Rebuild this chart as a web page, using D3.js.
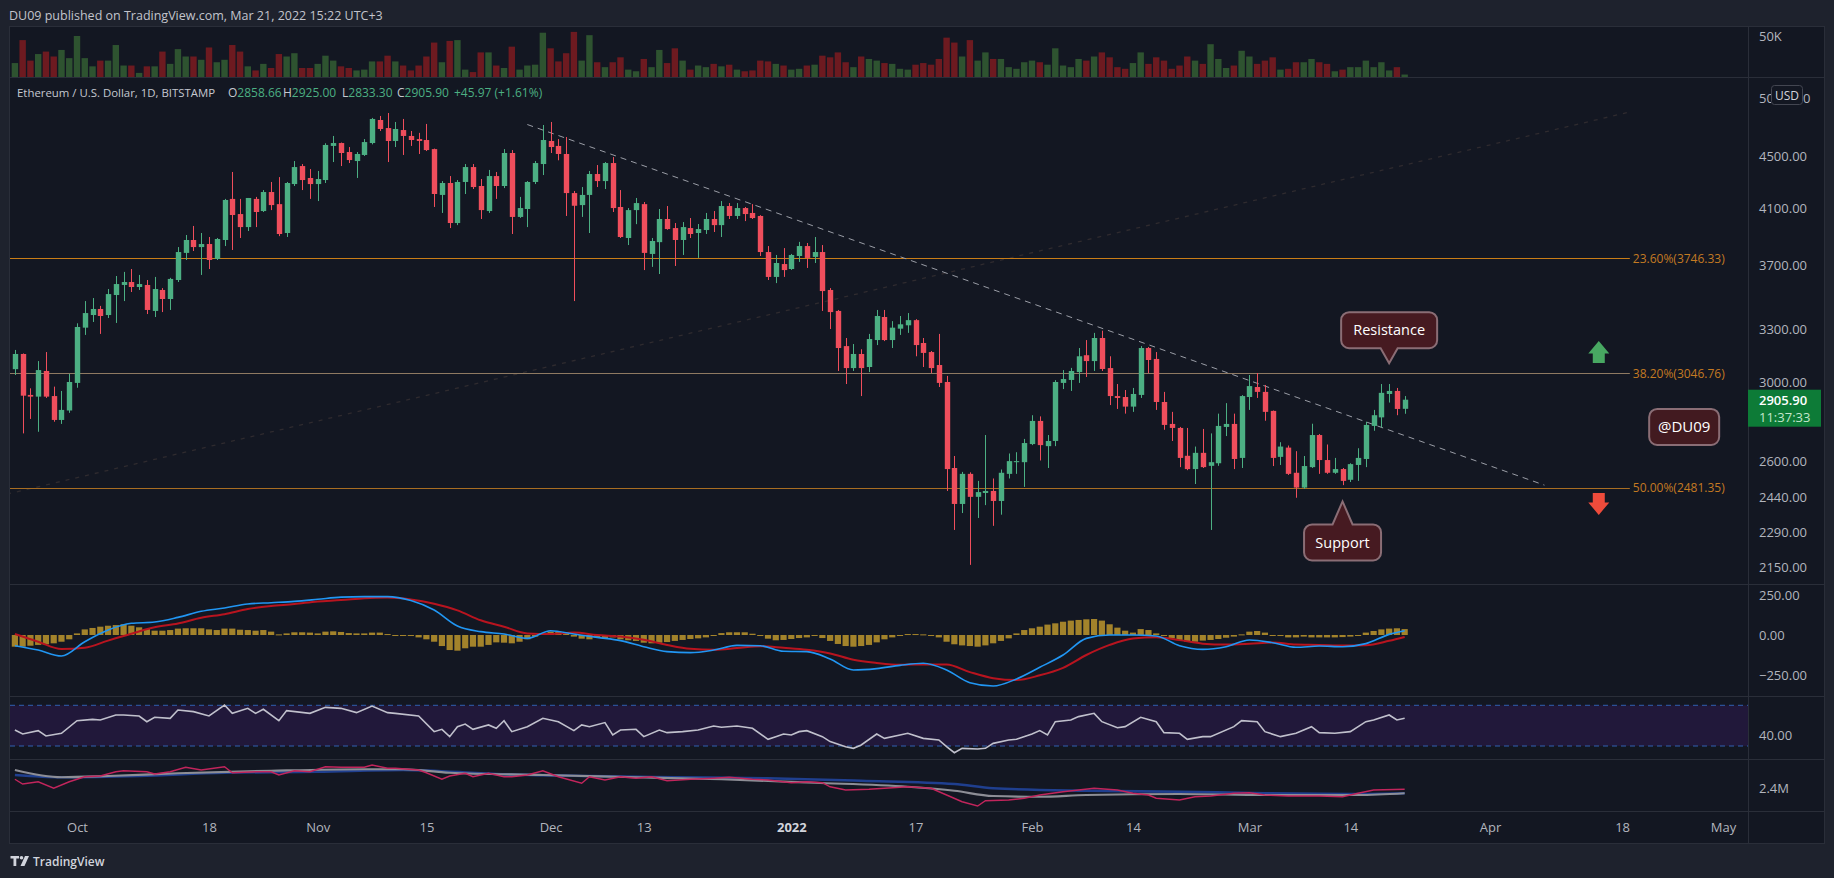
<!DOCTYPE html>
<html>
<head>
<meta charset="utf-8">
<script src="https://cdn.jsdelivr.net/npm/d3@7"></script>
<style>
  body { margin: 0; background: #1e222d; overflow: hidden; }
  text { font-family: "Open Sans", sans-serif; }
</style>
</head>
<body>
<svg id="chart" width="1834" height="878"></svg>
<script>
// ---- data (ETH/USD daily, Bitstamp, 23 Sep 2021 .. 21 Mar 2022) ----
var firstDay = "2021-09-23";

var opens = [3070,3155,2931,2922,3060,2925,2802,2850,2995,3308,3384,3421,3384,3508,3572,3591,3559,3572,3409,3540,
  3483,3604,3784,3873,3824,3845,3743,3873,4170,4058,3964,4170,4080,4222,4131,3922,4283,4424,4330,4283,
  4314,4587,4611,4537,4464,4513,4611,4806,4737,4628,4720,4670,4644,4636,4561,4200,4291,3993,4299,4416,
  4268,4080,4345,4268,4529,4037,4095,4299,4440,4628,4587,4521,4214,4124,4200,4361,4306,4448,4110,3887,
  4087,4131,3777,3858,4022,3957,3873,3957,3922,3943,4022,3978,4117,4044,4102,4066,4044,3790,3624,3709,
  3676,3763,3831,3757,3790,3540,3409,3200,3076,3155,3082,3235,3372,3235,3302,3322,3353,3218,3166,3093,
  3000,2570,2409,2543,2440,2457,2466,2422,2543,2597,2597,2683,2797,2673,2698,2995,3011,3054,3148,3115,
  3247,3076,2925,2920,2870,2931,3189,3127,2894,2782,2762,2627,2565,2641,2580,2592,2767,2782,2617,2920,
  2973,2947,2848,2622,2666,2548,2481,2574,2727,2607,2548,2565,2516,2584,2612,2772,2815,2936,2952,2858.66];
var highs = [3178,3158,2966,3115,3166,2975,2952,3044,3334,3470,3489,3440,3546,3630,3657,3676,3637,3604,3624,3552,
  3618,3824,3908,3972,3922,3894,3887,4170,4377,4170,4177,4185,4237,4299,4337,4299,4464,4440,4400,4385,
  4609,4670,4615,4578,4537,4644,4824,4841,4867,4789,4815,4712,4696,4772,4565,4306,4345,4314,4440,4440,
  4322,4393,4377,4561,4553,4185,4306,4464,4763,4789,4644,4661,4230,4260,4385,4432,4456,4496,4237,4102,
  4177,4147,3887,4095,4117,3993,4000,4029,3986,4066,4080,4154,4139,4139,4110,4131,4050,3831,3770,3817,
  3777,3860,3852,3894,3838,3552,3415,3247,3212,3182,3271,3415,3415,3347,3378,3396,3359,3247,3172,3271,
  3033,2626,2552,2550,2511,2727,2522,2563,2638,2644,2708,2826,2820,2727,3010,3065,3077,3189,3235,3277,
  3290,3142,2989,2957,2968,3200,3195,3166,2947,2843,2767,2762,2671,2757,2735,2834,2888,2834,2930,3038,
  3049,2984,2850,2692,2676,2649,2626,2783,2732,2681,2617,2570,2592,2663,2793,2853,2989,2989,2968,2925];
var lows = [3038,2735,2807,2743,2915,2793,2782,2838,2969,3265,3342,3271,3366,3336,3470,3527,3540,3390,3372,3402,
  3415,3591,3736,3797,3637,3676,3736,3831,3804,3887,3936,3964,4073,4087,3900,3894,4268,4237,4170,4154,
  4291,4456,4424,4448,4330,4505,4600,4712,4456,4578,4513,4587,4521,4545,4110,4066,3957,3978,4207,4245,
  4022,4066,4170,4252,3915,4030,3964,4283,4353,4529,4470,4044,3470,4037,3922,4260,4245,4073,3887,3838,
  3985,3669,3690,3643,3945,3696,3770,3887,3750,3915,3929,3894,4022,4022,4007,4022,3763,3604,3584,3624,
  3670,3723,3683,3716,3409,3300,3060,2989,3060,2925,3054,3206,3229,3189,3265,3277,3142,3082,3049,2973,
  2466,2299,2370,2159,2349,2404,2316,2363,2522,2543,2484,2678,2605,2570,2673,2962,2952,2995,3027,3060,
  3060,2878,2858,2834,2843,2915,3049,2853,2753,2698,2574,2560,2497,2570,2299,2580,2722,2565,2570,2853,
  2915,2798,2579,2584,2538,2436,2475,2570,2543,2543,2543,2492,2506,2511,2574,2748,2764,2891,2826,2833.3];
var closes = [3155,2927,2922,3065,2922,2802,2853,3000,3312,3396,3421,3378,3514,3578,3591,3559,3578,3415,3546,3483,
  3611,3790,3873,3824,3845,3736,3880,4162,4051,3964,4177,4073,4222,4124,3915,4291,4416,4314,4283,4322,
  4595,4611,4529,4472,4521,4619,4815,4729,4628,4729,4670,4636,4628,4553,4207,4291,3993,4299,4416,4260,
  4087,4345,4268,4529,4037,4102,4299,4448,4636,4578,4521,4214,4119,4200,4361,4306,4448,4102,3894,4087,
  4139,3784,3866,4022,3950,3873,3964,3915,3950,4022,3978,4117,4044,4102,4058,4029,3790,3624,3716,3669,
  3770,3831,3750,3790,3533,3402,3189,3076,3155,3076,3241,3378,3235,3308,3328,3353,3206,3161,3076,2995,
  2565,2409,2543,2440,2461,2466,2422,2548,2602,2602,2688,2797,2678,2698,3000,3016,3060,3142,3115,3247,
  3071,2925,2915,2870,2936,3189,3121,2894,2777,2762,2617,2565,2641,2574,2597,2772,2782,2612,2925,2978,
  2947,2843,2617,2671,2543,2481,2579,2727,2607,2548,2565,2511,2588,2617,2777,2826,2942,2952,2858,2905.9];
// volume, thousands of ETH
var volumes = [17,45,20,28,31,25,33,23,50,23,13,20,20,39,14,14,5,13,13,31,
  16,34,25,25,21,36,18,21,39,31,13,8,16,11,28,25,29,11,11,16,
  26,20,13,11,8,9,19,19,26,19,14,8,14,25,42,18,44,45,9,6,
  30,30,14,11,37,9,14,15,54,35,19,29,55,20,51,18,12,18,24,9,
  7,22,12,33,17,35,20,9,14,12,16,13,15,9,7,8,20,19,16,14,
  9,10,14,15,26,24,30,18,12,25,22,20,17,16,10,9,15,17,15,22,
  48,42,25,45,20,30,22,22,12,10,18,20,18,15,35,14,12,22,20,25,
  30,24,12,10,17,30,16,24,20,10,14,25,20,16,40,22,11,14,32,25,
  16,20,24,9,10,18,18,22,18,16,7,9,12,12,20,12,18,8,12,3];

// MACD (12,26,9): histogram per day, lines read every third day
var macdHist = [-73,-73,-67,-62,-58,-52,-42,-27,10,35,44,52,58,62,67,58,48,37,27,27,
  31,40,42,42,42,35,31,40,40,33,31,27,31,21,4,10,17,17,15,10,
  21,23,19,12,10,10,15,15,6,0,-2,-6,-15,-27,-42,-69,-94,-98,-83,-73,
  -73,-62,-46,-48,-52,-42,-27,-10,10,21,21,10,-10,-23,-27,-15,-21,-15,-27,-33,
  -37,-48,-52,-48,-44,-37,-31,-25,-21,-15,-2,12,17,17,17,8,-6,-23,-33,-31,
  -25,-19,-15,-6,-19,-37,-56,-69,-73,-69,-62,-46,-27,-15,-6,6,6,4,0,-15,
  -42,-58,-65,-69,-73,-65,-52,-37,-21,10,31,42,52,65,73,83,90,94,98,100,
  90,67,46,27,15,37,31,10,-6,-21,-31,-42,-42,-35,-31,-25,-17,-10,4,21,
  25,15,0,-6,-15,-15,-10,-15,-15,-15,-15,-13,-10,0,15,25,35,40,42,37];
var macdDays = [0,3,6,9,12,15,18,21,24,27,30,33,36,39,42,45,48,51,54,57,60,63,66,69,72,75,78,81,84,87,
  90,93,96,99,102,105,108,111,114,117,120,123,126,129,132,135,138,141,144,147,150,153,156,159,162,165,168,171,174,177,179];
var macdLine = [-67,-94,-131,-42,31,73,81,110,148,169,194,202,210,223,237,240,240,215,156,56,
  21,6,-21,27,6,-15,-35,-73,-104,-110,-94,-65,-67,-102,-104,-150,-219,-210,-190,-177,
  -219,-298,-319,-275,-202,-125,-21,0,0,-6,-67,-90,-73,-31,-48,-77,-69,-73,-54,4,27];
var signalLine = [6,-42,-88,-80,-35,8,48,72,108,130,162,181,193,210,218,230,234,222,195,154,
  92,52,10,6,15,0,-10,-30,-62,-86,-92,-82,-70,-80,-92,-115,-155,-175,-186,-184,
  -185,-232,-270,-282,-252,-205,-125,-62,-22,-14,-32,-54,-60,-55,-47,-60,-62,-66,-64,-36,-12];

// RSI
var rsiDays = [0,1,3,4,6,8,10,11,13,14,16,17,18,20,21,23,25,27,28,30,31,32,34,35,38,40,42,44,46,48,
  49,52,54,55,56,57,58,59,61,62,63,64,66,68,70,72,73,74,76,77,78,80,81,83,84,86,88,90,91,93,
  95,97,98,99,100,101,102,104,105,107,108,109,111,112,114,115,117,119,120,121,122,124,125,126,128,129,131,132,133,134,
  136,137,139,140,142,143,145,147,148,150,151,153,154,157,158,160,161,163,165,167,168,170,172,174,175,177,178,179];
var rsiVals = [45.7,41.8,45.1,39.8,42.5,54.9,56.2,55.6,60.5,60.5,59.5,53.9,58.2,57.2,65.4,63.8,59.5,70.3,62.1,67.0,
  62.1,66.1,54.9,64.8,62.1,68.0,67.0,62.8,69.3,62.8,62.1,59.5,44.1,46.4,39.2,49.0,51.6,46.4,50.7,47.4,
  54.9,44.1,49.0,57.2,53.9,45.1,50.7,49.0,53.0,40.8,45.7,46.4,39.2,45.7,43.1,44.1,45.7,49.7,48.4,49.7,
  47.4,36.6,39.2,41.8,40.8,44.1,45.1,39.2,34.3,29.3,27.7,31.0,41.8,37.5,40.8,42.5,37.5,35.9,29.3,23.4,
  27.7,27.0,27.7,32.6,35.9,36.6,41.8,45.1,40.8,53.9,55.6,58.9,62.1,53.9,48.0,49.0,58.2,53.9,43.1,42.5,
  36.6,39.2,39.2,49.0,54.9,53.9,44.1,39.2,42.5,49.0,43.1,42.5,44.1,53.9,55.6,60.5,55.6,57.2];

// bottom pane, millions: jagged line plus two averages
var obvDays = [0,1,3,5,7,9,11,13,14,17,18,20,22,24,27,28,31,33,34,36,38,40,42,45,46,48,49,52,53,55,
  56,58,59,61,63,64,66,68,70,73,74,76,78,80,82,84,87,90,92,95,97,100,102,104,105,107,110,112,115,118,
  120,122,124,125,128,130,132,135,137,139,142,144,146,147,150,152,154,157,159,161,164,166,168,171,173,175,179];
var obvVals = [2.75,2.56,2.65,2.39,2.65,2.85,2.88,3.05,3.09,3.05,2.96,3.05,3.23,3.12,3.25,3.01,3.05,3.05,2.92,3.09,
  3.05,3.25,3.23,3.23,3.32,3.19,3.19,3.12,3.01,2.75,2.88,2.99,2.85,2.99,2.85,2.85,2.92,3.09,2.85,2.59,
  2.85,2.72,2.85,2.79,2.85,2.69,2.75,2.79,2.83,2.75,2.72,2.61,2.65,2.61,2.45,2.32,2.35,2.39,2.45,2.39,
  2.12,1.85,1.68,1.89,1.92,1.99,2.12,2.25,2.32,2.39,2.32,2.19,2.12,1.99,1.92,2.05,2.08,2.19,2.21,2.12,
  2.08,2.08,2.08,2.05,2.19,2.32,2.35];
var grayDays = [0,6,12,21,33,45,50,56,68,80,91,103,115,121,126,132,138,150,161,173,179];
var grayVals = [3.12,2.83,2.88,2.99,3.09,3.15,3.15,3.01,2.92,2.83,2.75,2.61,2.45,2.29,2.08,2.05,2.12,2.16,2.12,2.12,2.19];
var blueDays = [0,6,16,27,39,50,62,74,85,97,109,121,126,138,150,161,173,179];
var blueVals = [2.92,2.83,2.88,3.01,3.05,3.12,2.96,2.88,2.83,2.79,2.69,2.56,2.39,2.29,2.25,2.19,2.16,2.19];

// axes
var priceTicks = [5000,4500,4100,3700,3300,3000,2600,2440,2290,2150];
var tickDates = ["2021-10-01","2021-10-18","2021-11-01","2021-11-15","2021-12-01","2021-12-13","2022-01-01",
  "2022-01-17","2022-02-01","2022-02-14","2022-03-01","2022-03-14","2022-04-01","2022-04-18","2022-05-01"];
var tickLabels = ["Oct","18","Nov","15","Dec","13","2022","17","Feb","14","Mar","14","Apr","18","May"];

// drawings
var fibLevels = ["23.60%","38.20%","50.00%"];
var fibPrices = [3746.33, 3046.76, 2481.35];
var fibSpan = ["2021-09-22","2022-04-19"];
var fibDiagPrices = [2452, 4876];
var trendDates = ["2021-11-28","2022-04-08"];
var trendPrices = [4767, 2492];
var lastBar = {open: 2858.66, high: 2925.00, low: 2833.30, close: 2905.90, change: 45.97, pct: 1.61, countdown: "11:37:33"};

// ---- layout ----
var L = 10, R = 1824, AX = 1748;
var paneTop = 27, volBottom = 77, mainBottom = 584, macdBottom = 696, rsiBottom = 759, obvBottom = 811, chartBottom = 843;
var UP = "#4caf83", DOWN = "#ef4e5c", TXT = "#b2b5be", GRID = "#2a2e39";

var svg = d3.select("#chart");
var defs = svg.append("defs");
function clip(id, y0, y1) {
  defs.append("clipPath").attr("id", id).append("rect")
    .attr("x", L).attr("y", y0).attr("width", AX - L).attr("height", y1 - y0);
}
clip("cVol", paneTop, volBottom); clip("cMain", volBottom, mainBottom);
clip("cMacd", mainBottom, macdBottom); clip("cRsi", macdBottom, rsiBottom); clip("cObv", rsiBottom, obvBottom);
// price axis label half hidden behind the USD badge
defs.append("clipPath").attr("id", "cAxisTop").append("rect").attr("x", AX).attr("y", 80).attr("width", 23).attr("height", 30);

svg.append("rect").attr("width", 1834).attr("height", 878).attr("fill", "#1e222d");
svg.append("text").attr("x", 9).attr("y", 20).attr("font-size", 12.5).attr("fill", "#c2c4cc")
  .text("DU09 published on TradingView.com, Mar 21, 2022 15:22 UTC+3");
svg.append("rect").attr("x", L - 0.5).attr("y", paneTop - 0.5).attr("width", R - L + 1).attr("height", chartBottom - paneTop + 1)
  .attr("fill", "#131722").attr("stroke", GRID);

// scales
var parse = d3.utcParse("%Y-%m-%d");
var start = parse(firstDay);
var day = function(i) { return d3.utcDay.offset(start, i); };
var x = d3.scaleUtc().domain([parse("2021-10-01"), parse("2022-05-01")]).range([77, 1723]);
var xi = function(i) { return x(day(i)); };
var y = d3.scaleLog().domain([2000, 5000]).range([607.4, 98]);
var yVol = d3.scaleLinear().domain([0, 50]).range([volBottom, 36]);
var yMacd = d3.scaleLinear().domain([-250, 250]).range([675, 595]);
var yRsi = d3.scaleLinear().domain([30, 70]).range([746, 705.3]);
var yObv = d3.scaleLinear().domain([1.4, 3.4]).range([813, 763]);

var bars = closes.map(function(c, i) {
  return {i: i, o: opens[i], h: highs[i], l: lows[i], c: c, v: volumes[i], up: c >= opens[i]};
});

// pane separators
[volBottom, mainBottom, macdBottom, rsiBottom, obvBottom].forEach(function(py) {
  svg.append("line").attr("x1", L).attr("x2", R).attr("y1", py + 0.5).attr("y2", py + 0.5).attr("stroke", GRID);
});
svg.append("line").attr("x1", AX + 0.5).attr("x2", AX + 0.5).attr("y1", paneTop).attr("y2", chartBottom).attr("stroke", GRID);

// volume
svg.append("g").attr("clip-path", "url(#cVol)").selectAll("rect").data(bars).join("rect")
  .attr("x", function(d) { return xi(d.i) - 3.2; }).attr("width", 6.4)
  .attr("y", function(d) { return yVol(d.v); }).attr("height", function(d) { return yVol(0) - yVol(d.v); })
  .attr("fill", function(d) { return d.up ? "#2e5330" : "#6d1a20"; });

// main pane
var main = svg.append("g").attr("clip-path", "url(#cMain)");
var f0 = parse(fibSpan[0]), f1 = parse(fibSpan[1]);
main.append("line").attr("x1", x(f0)).attr("y1", y(fibDiagPrices[0])).attr("x2", x(f1)).attr("y2", y(fibDiagPrices[1]))
  .attr("stroke", "#2f2b2f").attr("stroke-width", 1.3).attr("stroke-dasharray", "4,6");
main.selectAll("line.fib").data(fibPrices).join("line").attr("class", "fib")
  .attr("x1", x(f0)).attr("x2", x(f1))
  .attr("y1", function(d) { return Math.round(y(d)) + 0.5; }).attr("y2", function(d) { return Math.round(y(d)) + 0.5; })
  .attr("stroke", function(d, i) { return i === 0 ? "#c97d17" : (i === 1 ? "#8f7a62" : "#a86d22"); });
main.selectAll("text.fib").data(fibPrices).join("text").attr("class", "fib")
  .attr("x", x(f1) + 3).attr("y", function(d) { return y(d) + 4.5; })
  .attr("font-size", 12).attr("fill", "#c47a22")
  .text(function(d, i) { return fibLevels[i] + "(" + d.toFixed(2) + ")"; });
main.append("line")
  .attr("x1", x(parse(trendDates[0]))).attr("y1", y(trendPrices[0]))
  .attr("x2", x(parse(trendDates[1]))).attr("y2", y(trendPrices[1]))
  .attr("stroke", "#9a9da6").attr("stroke-dasharray", "6,5");

var candle = main.append("g").selectAll("g").data(bars).join("g")
  .attr("fill", function(d) { return d.up ? UP : DOWN; })
  .attr("stroke", function(d) { return d.up ? UP : DOWN; });
candle.append("line")
  .attr("x1", function(d) { return Math.round(xi(d.i)) + 0.5; }).attr("x2", function(d) { return Math.round(xi(d.i)) + 0.5; })
  .attr("y1", function(d) { return y(d.h); }).attr("y2", function(d) { return y(d.l); });
candle.append("rect").attr("stroke", "none")
  .attr("x", function(d) { return Math.round(xi(d.i)) + 0.5 - 2.7; }).attr("width", 5.4)
  .attr("y", function(d) { return y(Math.max(d.o, d.c)); })
  .attr("height", function(d) { return Math.max(1, Math.abs(y(d.o) - y(d.c))); });

// callouts
function callout(tx, ty, w, h, gap, baseHalf, below, label, fs) {
  var r = 8, x0 = tx - w / 2, x1 = tx + w / 2, y0, y1, p;
  if (below) { // box above the tip, pointer down
    y1 = ty - gap; y0 = y1 - h;
    p = "M" + (x0 + r) + "," + y0 + "H" + (x1 - r) + "A" + r + "," + r + " 0 0 1 " + x1 + "," + (y0 + r) +
      "V" + (y1 - r) + "A" + r + "," + r + " 0 0 1 " + (x1 - r) + "," + y1 + "H" + (tx + baseHalf) + "L" + tx + "," + ty +
      "L" + (tx - baseHalf) + "," + y1 + "H" + (x0 + r) + "A" + r + "," + r + " 0 0 1 " + x0 + "," + (y1 - r) +
      "V" + (y0 + r) + "A" + r + "," + r + " 0 0 1 " + (x0 + r) + "," + y0 + "Z";
  } else {
    y0 = ty + gap; y1 = y0 + h;
    p = "M" + (x0 + r) + "," + y0 + "H" + (tx - baseHalf) + "L" + tx + "," + ty + "L" + (tx + baseHalf) + "," + y0 +
      "H" + (x1 - r) + "A" + r + "," + r + " 0 0 1 " + x1 + "," + (y0 + r) + "V" + (y1 - r) +
      "A" + r + "," + r + " 0 0 1 " + (x1 - r) + "," + y1 + "H" + (x0 + r) + "A" + r + "," + r + " 0 0 1 " + x0 + "," + (y1 - r) +
      "V" + (y0 + r) + "A" + r + "," + r + " 0 0 1 " + (x0 + r) + "," + y0 + "Z";
  }
  svg.append("path").attr("d", p).attr("fill", "#461a21").attr("stroke", "#8a6d75").attr("stroke-width", 2);
  svg.append("text").attr("x", tx).attr("y", (y0 + y1) / 2 + fs * 0.36).attr("text-anchor", "middle")
    .attr("font-size", fs).attr("fill", "#ffffff").text(label);
}
callout(xi(177), y(3103), 96, 36, 15, 8.5, true, "Resistance", 14.5);
callout(xi(171), y(2420), 77, 36, 23, 10, false, "Support", 14.5);
(function() {
  var cx = xi(215), cy = y(2767);
  svg.append("rect").attr("x", cx - 35).attr("y", cy - 18).attr("width", 70).attr("height", 36).attr("rx", 8)
    .attr("fill", "#421a20").attr("stroke", "#8a6d75").attr("stroke-width", 2);
  svg.append("text").attr("x", cx).attr("y", cy + 5.5).attr("text-anchor", "middle").attr("font-size", 15)
    .attr("fill", "#ffffff").text("@DU09");
})();
(function() {
  var ax = xi(204), up = y(3230), dn = y(2362);
  svg.append("path").attr("fill", "#48a862")
    .attr("d", "M" + ax + "," + up + "L" + (ax + 10.5) + "," + (up + 12.5) + "H" + (ax + 6) + "V" + (up + 22) +
      "H" + (ax - 6) + "V" + (up + 12.5) + "H" + (ax - 10.5) + "Z");
  svg.append("path").attr("fill", "#ee4b3b")
    .attr("d", "M" + ax + "," + dn + "L" + (ax + 10.5) + "," + (dn - 12.5) + "H" + (ax + 6) + "V" + (dn - 22) +
      "H" + (ax - 6) + "V" + (dn - 12.5) + "H" + (ax - 10.5) + "Z");
})();

// legend
var legend = svg.append("text").attr("y", 97).attr("font-size", 12).attr("fill", "#c5c8d0");
legend.append("tspan").attr("x", 17).attr("font-size", 11.4).text("Ethereum / U.S. Dollar, 1D, BITSTAMP");
[["O", lastBar.open, 228], ["H", lastBar.high, 283], ["L", lastBar.low, 342], ["C", lastBar.close, 397]].forEach(function(k) {
  legend.append("tspan").attr("x", k[2]).text(k[0]);
  legend.append("tspan").attr("fill", UP).text(k[1].toFixed(2));
});
legend.append("tspan").attr("x", 454).attr("fill", UP)
  .text("+" + lastBar.change.toFixed(2) + " (+" + lastBar.pct.toFixed(2) + "%)");

// MACD
var macd = svg.append("g").attr("clip-path", "url(#cMacd)");
macd.selectAll("rect").data(macdHist).join("rect")
  .attr("x", function(d, i) { return xi(i) - 3.1; }).attr("width", 6.2)
  .attr("y", function(d) { return Math.min(yMacd(d), yMacd(0)); })
  .attr("height", function(d) { return Math.max(1, Math.abs(yMacd(d) - yMacd(0))); })
  .attr("fill", "#a3832b");
var macdPts = d3.zip(macdDays, macdLine), sigPts = d3.zip(macdDays, signalLine);
macd.append("path").datum(sigPts).attr("fill", "none").attr("stroke", "#b8141f").attr("stroke-width", 2)
  .attr("d", d3.line().x(function(d) { return xi(d[0]); }).y(function(d) { return yMacd(d[1]); }).curve(d3.curveMonotoneX));
macd.append("path").datum(macdPts).attr("fill", "none").attr("stroke", "#2196f3").attr("stroke-width", 1.6)
  .attr("d", d3.line().x(function(d) { return xi(d[0]); }).y(function(d) { return yMacd(d[1]); }).curve(d3.curveMonotoneX));

// RSI
var rsi = svg.append("g").attr("clip-path", "url(#cRsi)");
rsi.append("rect").attr("x", L).attr("width", AX - L).attr("y", yRsi(70)).attr("height", yRsi(30) - yRsi(70)).attr("fill", "#21183a");
[70, 30].forEach(function(v) {
  rsi.append("line").attr("x1", L).attr("x2", AX).attr("y1", yRsi(v)).attr("y2", yRsi(v))
    .attr("stroke", "#3060b0").attr("stroke-dasharray", "5,4");
});
rsi.append("path").datum(d3.zip(rsiDays, rsiVals)).attr("fill", "none").attr("stroke", "#c0c0cc").attr("stroke-width", 1.6)
  .attr("d", d3.line().x(function(d) { return xi(d[0]); }).y(function(d) { return yRsi(d[1]); }));

// bottom pane
var obv = svg.append("g").attr("clip-path", "url(#cObv)");
var lineObv = d3.line().x(function(d) { return xi(d[0]); }).y(function(d) { return yObv(d[1]); });
obv.append("path").datum(d3.zip(blueDays, blueVals)).attr("fill", "none").attr("stroke", "#1f3f8f").attr("stroke-width", 2.6)
  .attr("d", lineObv.curve(d3.curveMonotoneX));
obv.append("path").datum(d3.zip(grayDays, grayVals)).attr("fill", "none").attr("stroke", "#8d8e96").attr("stroke-width", 2.2)
  .attr("d", lineObv.curve(d3.curveMonotoneX));
obv.append("path").datum(d3.zip(obvDays, obvVals)).attr("fill", "none").attr("stroke", "#c2255c").attr("stroke-width", 1.4)
  .attr("d", lineObv.curve(d3.curveLinear));

// axes
function styleAxis(g) {
  g.select(".domain").remove();
  g.selectAll("text").attr("fill", TXT).attr("font-size", 13).attr("font-family", "Open Sans, sans-serif");
}
svg.append("g").attr("transform", "translate(" + AX + ",0)")
  .call(d3.axisRight(y).tickValues(priceTicks.slice(1)).tickFormat(d3.format(".2f")).tickSize(0).tickPadding(11)).call(styleAxis);
// top label only shows its ends around the USD badge
svg.append("g").attr("clip-path", "url(#cAxisTop)").append("g").attr("transform", "translate(" + AX + ",0)")
  .call(d3.axisRight(y).tickValues(priceTicks.slice(0, 1)).tickFormat(function(d) { return "50"; }).tickSize(0).tickPadding(11)).call(styleAxis);
svg.append("text").attr("x", 1803).attr("y", y(priceTicks[0]) + 4.5).attr("font-size", 13).attr("fill", TXT).text("0");
svg.append("g").attr("transform", "translate(" + AX + ",0)")
  .call(d3.axisRight(yMacd).tickValues([250, 0, -250]).tickFormat(d3.format(".2f")).tickSize(0).tickPadding(11)).call(styleAxis);
svg.append("g").attr("transform", "translate(" + AX + ",0)")
  .call(d3.axisRight(yRsi).tickValues([40]).tickFormat(d3.format(".2f")).tickSize(0).tickPadding(11)).call(styleAxis);
svg.append("g").attr("transform", "translate(" + AX + ",0)")
  .call(d3.axisRight(yObv).tickValues([2.4]).tickFormat(function(d) { return d + "M"; }).tickSize(0).tickPadding(11)).call(styleAxis);
svg.append("g").attr("transform", "translate(" + AX + ",0)")
  .call(d3.axisRight(yVol).tickValues([50]).tickFormat(function(d) { return d + "K"; }).tickSize(0).tickPadding(11)).call(styleAxis);
var tAxis = svg.append("g").attr("transform", "translate(0," + obvBottom + ")")
  .call(d3.axisBottom(x).tickValues(tickDates.map(parse)).tickFormat(function(d, i) { return tickLabels[i]; })
    .tickSize(0).tickPadding(12)).call(styleAxis);
tAxis.selectAll("text").filter(function(d, i) { return tickLabels[i] === "2022"; })
  .attr("font-weight", "bold").attr("fill", "#d1d4dc");

// USD badge over the 5000 label
svg.append("rect").attr("x", 1771.5).attr("y", 85.5).attr("width", 31).attr("height", 19).attr("rx", 3)
  .attr("fill", "#131722").attr("stroke", "#434651");
svg.append("text").attr("x", 1787).attr("y", 99.5).attr("text-anchor", "middle").attr("font-size", 12)
  .attr("fill", "#d1d4dc").text("USD");

// last price tag
var py = y(lastBar.close);
svg.append("rect").attr("x", AX).attr("y", py - 10).attr("width", 73).attr("height", 37).attr("fill", "#0d7b37");
svg.append("text").attr("x", AX + 11).attr("y", py + 5.5).attr("font-size", 13).attr("font-weight", 600)
  .attr("fill", "#ffffff").text(lastBar.close.toFixed(2));
svg.append("text").attr("x", AX + 11).attr("y", py + 22).attr("font-size", 13).attr("fill", "#c3e6cc").text(lastBar.countdown);

// footer logo
var logo = svg.append("g").attr("fill", "#d1d4dc");
logo.append("path").attr("d", "M10.5,856H19V858.5H16.3V866H13.5V858.5H10.5Z");
logo.append("circle").attr("cx", 21.5).attr("cy", 857.8).attr("r", 1.8);
logo.append("path").attr("d", "M25,856H29L24.5,866H20.5Z");
logo.append("text").attr("x", 33).attr("y", 865.5).attr("font-size", 12).attr("font-weight", 600).text("TradingView");
</script>
</body>
</html>
